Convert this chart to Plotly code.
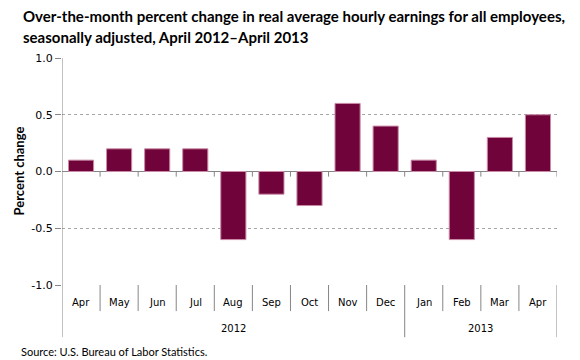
import plotly.graph_objects as go

months = ["Apr", "May", "Jun", "Jul", "Aug", "Sep", "Oct", "Nov", "Dec", "Jan", "Feb", "Mar", "Apr"]
years = ["2012"] * 9 + ["2013"] * 4
values = [0.1, 0.2, 0.2, 0.2, -0.6, -0.2, -0.3, 0.6, 0.4, 0.1, -0.6, 0.3, 0.5]
y_ticks = [-1.0, -0.5, 0.0, 0.5, 1.0]
y_tick_labels = ["-1.0", "-0.5", "0.0", "0.5", "1.0"]

title_lines = ["Over-the-month percent change in real average hourly earnings for all employees,",
               "seasonally adjusted, April 2012\u2013April 2013"]
source_text = "Source: U.S. Bureau of Labor Statistics."

xs = list(range(len(months)))
axis_gray = "#868686"
bar_color = "#70033a"

fig = go.Figure()
fig.add_trace(go.Bar(
    x=xs, y=values,
    marker=dict(color=bar_color, line=dict(color="#c98aa6", width=1)),
    width=0.66,
    hoverinfo="skip",
))

shapes = []
# y axis line extended through category area
shapes.append(dict(type="line", xref="x", yref="paper", x0=-0.5, x1=-0.5, y0=1, y1=-0.23,
                   line=dict(color=axis_gray, width=1)))
# category separators
year_breaks = {0, len(months)}
for i in range(1, len(months)):
    if years[i] != years[i - 1]:
        year_breaks.add(i)
for i in range(len(months) + 1):
    xb = i - 0.5
    y1 = -0.23 if i in year_breaks else -0.115
    if i != 0:
        shapes.append(dict(type="line", xref="x", yref="paper", x0=xb, x1=xb, y0=0, y1=y1,
                           line=dict(color=axis_gray, width=1)))
    # small ticks under zero line
    if 0 < i <= len(months):
        shapes.append(dict(type="line", xref="x", yref="y", x0=xb, x1=xb, y0=0, y1=-0.045,
                           line=dict(color=axis_gray, width=1)))

annotations = []
for i, m in enumerate(months):
    annotations.append(dict(x=i, y=0, xref="x", yref="paper", text=m, showarrow=False,
                            yanchor="middle", yshift=-17,
                            font=dict(family="DejaVu Sans", size=10, color="#000")))
for yr in sorted(set(years)):
    idx = [i for i, v in enumerate(years) if v == yr]
    annotations.append(dict(x=(idx[0] + idx[-1]) / 2, y=0, xref="x", yref="paper", text=yr,
                            showarrow=False, yanchor="middle", yshift=-43,
                            font=dict(family="DejaVu Sans", size=10, color="#000")))
annotations.append(dict(x=0, y=0.5, xref="paper", yref="paper", text="<b>Percent change</b>",
                        textangle=-90, showarrow=False, xanchor="center", yanchor="middle",
                        xshift=-44,
                        font=dict(family="Lato", size=13, color="#000")))
annotations.append(dict(x=0, y=0, xref="paper", yref="paper", text=source_text, showarrow=False,
                        xanchor="left", yanchor="middle", xshift=-43, yshift=-66,
                        font=dict(family="Lato", size=11, color="#000")))
for line, ys in zip(title_lines, [42, 21]):
    annotations.append(dict(x=0, y=1, xref="paper", yref="paper", text="<b>" + line + "</b>",
                            showarrow=False, xanchor="left", yanchor="middle",
                            xshift=-41, yshift=ys,
                            font=dict(family="Lato", size=15, color="#000")))

fig.update_layout(
    width=580, height=360,
    margin=dict(l=62, r=23, t=58, b=75),
    paper_bgcolor="white", plot_bgcolor="white",
    showlegend=False,
    xaxis=dict(range=[-0.5, len(months) - 0.5], showticklabels=False, showgrid=False,
               zeroline=False, showline=False, ticks="", fixedrange=True),
    yaxis=dict(range=[-1, 1], tickvals=y_ticks, ticktext=y_tick_labels,
               showgrid=True, gridcolor="#a6a6a6", griddash="dot", gridwidth=1,
               zeroline=True, zerolinecolor=axis_gray, zerolinewidth=1,
               showline=False, ticks="outside", ticklen=6, tickcolor=axis_gray,
               tickfont=dict(family="DejaVu Sans", size=11, color="#000"), fixedrange=True),
    shapes=shapes, annotations=annotations,
)

fig.write_html("out.html", config={"displayModeBar": False},
               post_script="document.body.style.margin='0px';")
